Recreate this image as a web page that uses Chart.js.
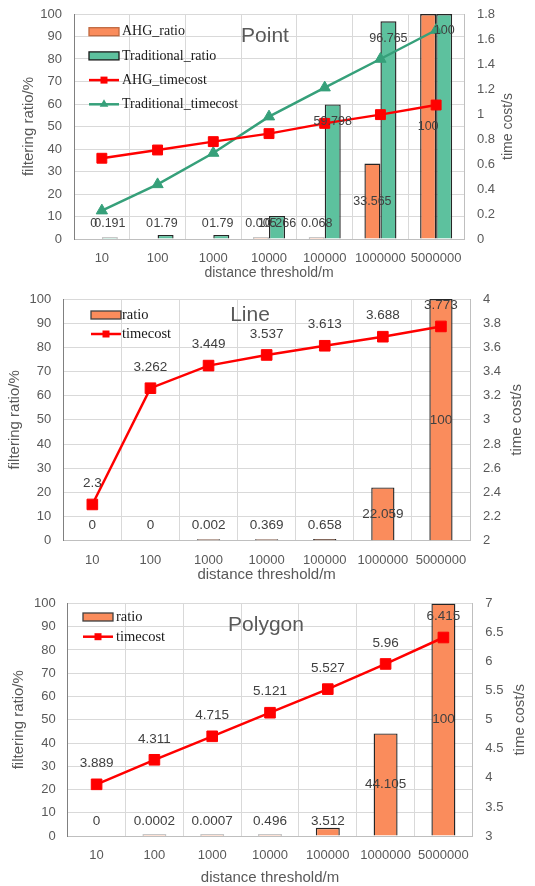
<!DOCTYPE html>
<html>
<head>
<meta charset="utf-8">
<script src="https://cdn.jsdelivr.net/npm/chart.js@4.4.1/dist/chart.umd.min.js"></script>
<style>
  body { margin: 0; background: #fff; }
  .box { position: absolute; left: 0; width: 535px; }
</style>
</head>
<body>
<div class="box" style="top:0;height:290px"><canvas id="pointChart"></canvas></div>
<div class="box" style="top:290px;height:295px"><canvas id="lineChart"></canvas></div>
<div class="box" style="top:595px;height:291px"><canvas id="polygonChart"></canvas></div>
<script>
// data
const thresholds = ['10', '100', '1000', '10000', '100000', '1000000', '5000000'];

const pointAhgRatio = [0, 0, 0, 0.005, 0.068, 33.565, 100];
const pointTradRatio = [0.191, 1.79, 1.79, 10.266, 59.798, 96.765, 100];
const pointAhgTime = [0.646, 0.712, 0.779, 0.843, 0.925, 0.995, 1.072];
const pointTradTime = [0.227, 0.437, 0.688, 0.979, 1.211, 1.44, 1.672];

const lineRatio = [0, 0, 0.002, 0.369, 0.658, 22.059, 100];
const lineTime = [2.3, 3.262, 3.449, 3.537, 3.613, 3.688, 3.773];

const polygonRatio = [0, 0.0002, 0.0007, 0.496, 3.512, 44.105, 100];
const polygonTime = [3.889, 4.311, 4.715, 5.121, 5.527, 5.96, 6.415];

// right axis ranges: [min, max, step]
const pointTimeAxis = [0, 1.8, 0.2];
const lineTimeAxis = [2, 4, 0.2];
const polygonTimeAxis = [3, 7, 0.5];

const ORANGE = '#fa8c5c';
const GREEN = '#5dc19e';
const GREEN_LINE = '#36a07a';
const RED = '#ff0000';
const GREY = '#595959';

// value labels (like excel data labels)
const valueLabels = {
  id: 'valueLabels',
  afterDatasetsDraw(chart, args, opts) {
    const ctx = chart.ctx;
    ctx.save();
    ctx.font = opts.font;
    ctx.fillStyle = '#404040';
    ctx.textAlign = 'center';
    ctx.textBaseline = 'middle';
    chart.data.datasets.forEach((ds, i) => {
      if (!ds.labelPos) return;
      const meta = chart.getDatasetMeta(i);
      const yScale = chart.scales[meta.yAxisID];
      const base = yScale.getPixelForValue(yScale.min);
      ds.rawValues.forEach((v, j) => {
        const x = meta.data[j].x;
        const top = yScale.getPixelForValue(v);
        let y;
        if (ds.labelPos === 'center') y = Math.min((top + base) / 2, base - 15);
        else if (ds.labelPos === 'end') y = Math.min(top + 17, base - 15);
        else y = top - 21;
        ctx.fillText(String(v), x, y);
      });
    });
    ctx.restore();
  }
};

function marker(ctx, style, x, y, r) {
  ctx.beginPath();
  if (style === 'triangle') {
    ctx.moveTo(x, y - r);
    ctx.lineTo(x + r * 0.866, y + r / 2);
    ctx.lineTo(x - r * 0.866, y + r / 2);
    ctx.closePath();
  } else {
    ctx.rect(x - r * 0.7, y - r * 0.7, r * 1.4, r * 1.4);
  }
  ctx.fill();
}

// legend drawn inside the plot, top left
const innerLegend = {
  id: 'innerLegend',
  afterDraw(chart, args, opts) {
    const ctx = chart.ctx;
    ctx.save();
    ctx.font = opts.font;
    ctx.textBaseline = 'middle';
    ctx.textAlign = 'left';
    chart.data.datasets.forEach((ds, i) => {
      const x = opts.x;
      const y = opts.y + i * opts.gap;
      if (ds.type === 'bar') {
        ctx.fillStyle = ds.backgroundColor;
        ctx.fillRect(x, y - 4, 30, 8);
        ctx.strokeStyle = ds.legendBorder;
        ctx.lineWidth = 1.3;
        ctx.strokeRect(x, y - 4, 30, 8);
      } else {
        ctx.strokeStyle = ds.borderColor;
        ctx.lineWidth = 2.5;
        ctx.beginPath();
        ctx.moveTo(x, y);
        ctx.lineTo(x + 30, y);
        ctx.stroke();
        ctx.fillStyle = ds.borderColor;
        marker(ctx, ds.pointStyle, x + 15, y, 5);
      }
      ctx.fillStyle = '#1a1a1a';
      ctx.fillText(ds.label, x + opts.textOffset, y);
    });
    ctx.restore();
  }
};

// chart name and right axis title (reads bottom to top like excel)
const extraText = {
  id: 'extraText',
  afterDraw(chart, args, opts) {
    const ctx = chart.ctx;
    const area = chart.chartArea;
    ctx.save();
    ctx.fillStyle = GREY;
    ctx.textAlign = 'center';
    ctx.textBaseline = 'middle';
    ctx.font = opts.titleFont;
    ctx.fillText(opts.title, opts.titleX, opts.titleY);
    ctx.translate(opts.sideX, (area.top + area.bottom) / 2);
    ctx.rotate(-Math.PI / 2);
    ctx.font = opts.sideFont;
    ctx.fillText('time cost/s', 0, 0);
    ctx.restore();
  }
};

function barSet(label, values, color, border, labelPos) {
  return {
    type: 'bar', label: label, rawValues: values, labelPos: labelPos,
    data: values.map(v => v || null),
    backgroundColor: color, borderColor: '#262626', legendBorder: border,
    borderWidth: 1.4, minBarLength: 1.5, yAxisID: 'y', order: 2
  };
}

function lineSet(label, values, color, style, radius, withLabels) {
  return {
    type: 'line', label: label, rawValues: values, labelPos: withLabels ? 'above' : null,
    data: values, borderColor: color, backgroundColor: color,
    borderWidth: 2.5, tension: 0, pointStyle: style, pointRadius: radius,
    pointBorderWidth: 1, yAxisID: 'y1', order: 1
  };
}

// g = geometry of each panel
function makeChart(id, datasets, timeAxis, g) {
  const ctx = document.getElementById(id).getContext('2d');
  return new Chart(ctx, {
    data: { labels: thresholds, datasets: datasets },
    plugins: [valueLabels, innerLegend, extraText],
    options: {
      responsive: true,
      maintainAspectRatio: false,
      animation: false,
      layout: { padding: { top: g.top, left: 0, right: 0, bottom: 0 } },
      datasets: { bar: { categoryPercentage: g.cat, barPercentage: g.bar } },
      scales: {
        x: {
          grid: { color: '#d9d9d9', drawTicks: false, offset: true },
          border: { color: '#bfbfbf' },
          ticks: { color: GREY, font: { family: 'Liberation Sans', size: 13 }, padding: g.xPad, maxRotation: 0, autoSkip: false },
          title: { display: true, text: 'distance threshold/m', color: GREY,
                   font: { family: 'Liberation Sans', size: g.axisFont }, padding: { top: 0, bottom: g.xTitlePad } },
          afterFit: s => { s.height = g.bottomH; s.paddingLeft = 0; s.paddingRight = 0; }
        },
        y: {
          position: 'left', min: 0, max: 100,
          grid: { color: '#d9d9d9', drawTicks: false },
          border: { color: '#808080' },
          ticks: { stepSize: 10, color: GREY, font: { family: 'Liberation Sans', size: 13 }, padding: 12 },
          title: { display: true, text: 'filtering ratio/%', color: GREY,
                   font: { family: 'Liberation Sans', size: 15 }, padding: { top: g.yTitlePad, bottom: 0 } },
          afterFit: s => { s.width = g.leftW; s.paddingTop = 0; s.paddingBottom = 0; }
        },
        y1: {
          position: 'right', min: timeAxis[0], max: timeAxis[1],
          grid: { display: false, drawTicks: false },
          border: { color: '#bfbfbf' },
          ticks: { stepSize: timeAxis[2], color: GREY, font: { family: 'Liberation Sans', size: 13 }, padding: 13,
                   callback: v => String(Number(v.toFixed(2))) },
          afterFit: s => { s.width = g.rightW; s.paddingTop = 0; s.paddingBottom = 0; }
        }
      },
      plugins: {
        legend: { display: false },
        tooltip: { enabled: false },
        valueLabels: { font: g.labelFont },
        innerLegend: { x: g.legX, y: g.legY, gap: g.legGap, textOffset: g.legText, font: g.legFont },
        extraText: { title: g.title, titleX: g.titleX, titleY: g.titleY, titleFont: '21px "Liberation Sans"',
                     sideX: g.sideX, sideFont: g.sideFont }
      }
    }
  });
}

// Point
makeChart('pointChart', [
  barSet('AHG_ratio', pointAhgRatio, ORANGE, '#c0693f', 'center'),
  barSet('Traditional_ratio', pointTradRatio, GREEN, '#1a1a1a', 'end'),
  lineSet('AHG_timecost', pointAhgTime, RED, 'rect', 7, false),
  lineSet('Traditional_timecost', pointTradTime, GREEN_LINE, 'triangle', 6.5, false)
], pointTimeAxis, {
  top: 14, leftW: 74, rightW: 71, bottomH: 51, cat: 0.575, bar: 1,
  xPad: 12, xTitlePad: 8, yTitlePad: 20, axisFont: 14,
  labelFont: '12.5px "Liberation Sans"',
  legX: 89, legY: 31.7, legGap: 24.2, legText: 33, legFont: '14px "Liberation Serif"',
  title: 'Point', titleX: 265, titleY: 36, sideX: 508, sideFont: '14px "Liberation Sans"'
});

// Line
makeChart('lineChart', [
  barSet('ratio', lineRatio, ORANGE, '#404040', 'center'),
  lineSet('timecost', lineTime, RED, 'rect', 7.5, true)
], lineTimeAxis, {
  top: 9, leftW: 63.3, rightW: 65, bottomH: 44.3, cat: 1, bar: 0.4,
  xPad: 12, xTitlePad: 1, yTitlePad: 6, axisFont: 15,
  labelFont: '13.5px "Liberation Sans"',
  legX: 91, legY: 25, legGap: 19, legText: 31, legFont: '14.5px "Liberation Serif"',
  title: 'Line', titleX: 250, titleY: 25.7, sideX: 517, sideFont: '15px "Liberation Sans"'
});

// Polygon
makeChart('polygonChart', [
  barSet('ratio', polygonRatio, ORANGE, '#404040', 'center'),
  lineSet('timecost', polygonTime, RED, 'rect', 7.5, true)
], polygonTimeAxis, {
  top: 4, leftW: 67.7, rightW: 62.7, bottomH: 50, cat: 1, bar: 0.415,
  xPad: 12, xTitlePad: -1, yTitlePad: 10, axisFont: 15,
  labelFont: '13.5px "Liberation Sans"',
  legX: 83, legY: 22, legGap: 19.7, legText: 33, legFont: '14.5px "Liberation Serif"',
  title: 'Polygon', titleX: 266, titleY: 30.7, sideX: 520, sideFont: '15px "Liberation Sans"'
});
</script>
</body>
</html>
